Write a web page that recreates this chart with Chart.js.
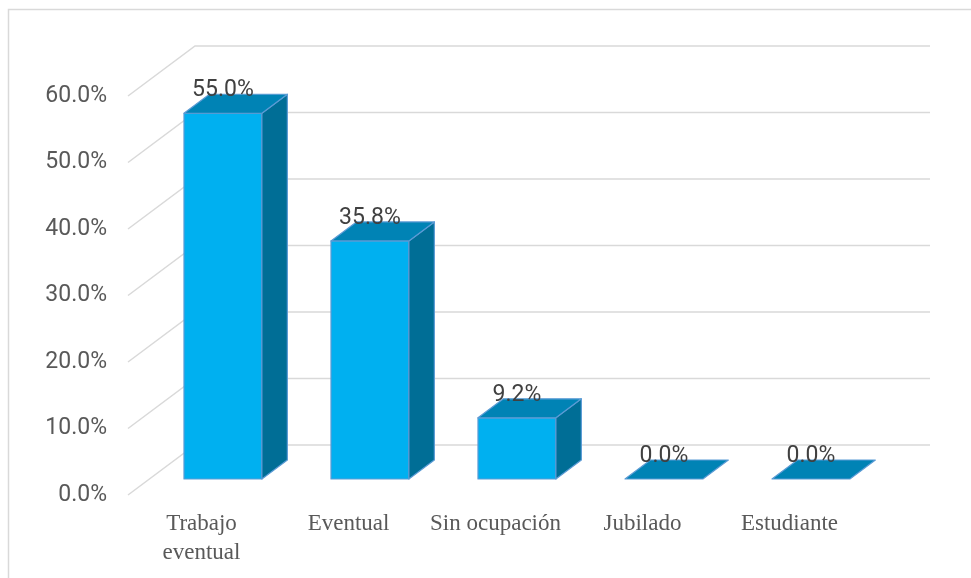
<!DOCTYPE html>
<html>
<head>
<meta charset="utf-8">
<script src="https://cdn.jsdelivr.net/npm/chart.js@4/dist/chart.umd.min.js"></script>
<style>
  html, body { margin: 0; padding: 0; background: #fff; }
  canvas { display: block; }
</style>
</head>
<body>
<canvas id="ocupacionChart" width="971" height="578"></canvas>
<script>
const categorias = [['Trabajo', 'eventual'], 'Eventual', 'Sin ocupación', 'Jubilado', 'Estudiante'];
const porcentajes = [55.0, 35.8, 9.2, 0.0, 0.0];
const ticksY = [0, 10, 20, 30, 40, 50, 60];

// desplazamiento de la pared del fondo y tramo de profundidad que ocupan las barras
const FONDO = { dx: 67, dy: -50 };
const BARRA = { inicio: 0.32, fin: 0.70 };

const fuenteSans = "'Liberation Sans Narrow', 'Roboto', sans-serif";
const fuenteSerif = "'Liberation Serif', 'Times New Roman', serif";

const efecto3d = {
    id: 'efecto3d',
    beforeDraw(chart) {
        const ctx = chart.ctx;
        ctx.save();
        ctx.fillStyle = '#fff';
        ctx.fillRect(0, 0, chart.width, chart.height);
        ctx.strokeStyle = '#d9d9d9';
        ctx.lineWidth = 1.5;
        ctx.strokeRect(8.5, 9.5, chart.width + 20, chart.height + 20);
        ctx.restore();
    },
    beforeDatasetsDraw(chart) {
        const { ctx, chartArea, scales } = chart;
        ctx.save();
        ctx.strokeStyle = '#d9d9d9';
        ctx.lineWidth = 1.5;
        ticksY.forEach(v => {
            const y = scales.y.getPixelForValue(v);
            ctx.beginPath();
            ctx.moveTo(chartArea.left, y);
            ctx.lineTo(chartArea.left + FONDO.dx, y + FONDO.dy);
            ctx.lineTo(chartArea.right + FONDO.dx, y + FONDO.dy);
            ctx.stroke();
        });
        ctx.restore();
    },
    afterDatasetsDraw(chart) {
        const ctx = chart.ctx;
        const meta = chart.getDatasetMeta(0);
        const ox = FONDO.dx * BARRA.inicio, oy = FONDO.dy * BARRA.inicio;
        const px = FONDO.dx * (BARRA.fin - BARRA.inicio), py = FONDO.dy * (BARRA.fin - BARRA.inicio);

        ctx.save();
        ctx.lineJoin = 'round';
        ctx.lineWidth = 1.2;
        ctx.strokeStyle = '#5b9bd5';
        meta.data.forEach((bar, i) => {
            const x0 = bar.x - bar.width / 2 + ox;
            const x1 = bar.x + bar.width / 2 + ox;
            const yt = bar.y + oy;
            const yb = bar.base + oy;

            if (yb - yt > 0.5) {
                // cara frontal
                ctx.fillStyle = '#00b0f0';
                ctx.beginPath();
                ctx.rect(x0, yt, x1 - x0, yb - yt);
                ctx.fill();
                ctx.stroke();
                // cara lateral
                ctx.fillStyle = '#006e96';
                ctx.beginPath();
                ctx.moveTo(x1, yt);
                ctx.lineTo(x1 + px, yt + py);
                ctx.lineTo(x1 + px, yb + py);
                ctx.lineTo(x1, yb);
                ctx.closePath();
                ctx.fill();
                ctx.stroke();
            }
            // cara superior
            ctx.fillStyle = '#0083b5';
            ctx.beginPath();
            ctx.moveTo(x0, yt);
            ctx.lineTo(x1, yt);
            ctx.lineTo(x1 + px, yt + py);
            ctx.lineTo(x0 + px, yt + py);
            ctx.closePath();
            ctx.fill();
            ctx.stroke();

            // etiqueta de valor
            ctx.fillStyle = '#404040';
            ctx.font = '23px ' + fuenteSans;
            ctx.textAlign = 'center';
            ctx.textBaseline = 'alphabetic';
            ctx.fillText(porcentajes[i].toFixed(1) + '%', (x0 + x1) / 2, yt + py + 2);
        });
        ctx.restore();
    }
};

new Chart(document.getElementById('ocupacionChart'), {
    type: 'bar',
    data: {
        labels: categorias,
        datasets: [{
            data: porcentajes,
            backgroundColor: 'rgba(0,0,0,0)',
            borderWidth: 0,
            barPercentage: 0.53,
            categoryPercentage: 1
        }]
    },
    options: {
        responsive: false,
        animation: false,
        layout: { padding: { top: 96, right: 108, left: 0, bottom: 0 } },
        plugins: {
            legend: { display: false },
            tooltip: { enabled: false }
        },
        scales: {
            x: {
                grid: { display: false, drawTicks: false },
                border: { display: false },
                ticks: {
                    color: '#595959',
                    padding: 15,
                    maxRotation: 0,
                    autoSkip: false,
                    font: { family: fuenteSerif, size: 23, lineHeight: 1.25 }
                },
                afterFit(scale) { scale.height = 83; }
            },
            y: {
                min: 0,
                max: 60,
                grid: { display: false, drawTicks: false },
                border: { display: false },
                ticks: {
                    stepSize: 10,
                    color: '#595959',
                    padding: 21,
                    font: { family: fuenteSans, size: 23 },
                    callback: v => v.toFixed(1) + '%'
                },
                afterFit(scale) { scale.width = 128; }
            }
        }
    },
    plugins: [efecto3d]
});
</script>
</body>
</html>
